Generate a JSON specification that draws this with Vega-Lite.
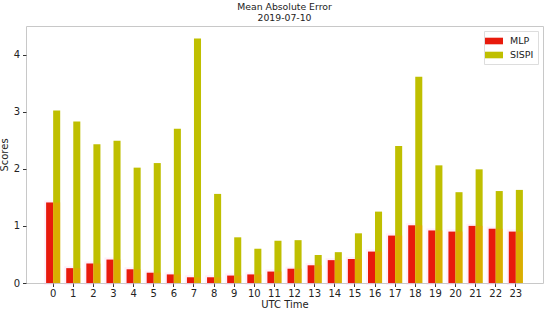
{
  "$schema": "https://vega.github.io/schema/vega-lite/v6.json",
  "width": 517,
  "height": 257,
  "autosize": {"type": "none"},
  "padding": {"left": 26, "top": 26, "right": 7, "bottom": 28},
  "background": "white",
  "config": {
    "font": "DejaVu Sans",
    "view": {"stroke": "#c8c8c8", "strokeWidth": 1},
    "axis": {"grid": false, "domain": false, "tickColor": "#333", "tickSize": 3.5, "labelFontSize": 10, "titleFontSize": 10, "titleFontWeight": "normal", "labelColor": "#222", "titleColor": "#222"}
  },
  "title": {"text": ["Mean Absolute Error", "2019-07-10"], "fontSize": 9.3, "fontWeight": "normal", "offset": 3, "lineHeight": 11, "color": "#222"},
  "data": {"values": [
    {"hour": "0", "MLP": 1.41, "SISPI": 3.02},
    {"hour": "1", "MLP": 0.26, "SISPI": 2.83},
    {"hour": "2", "MLP": 0.34, "SISPI": 2.43},
    {"hour": "3", "MLP": 0.41, "SISPI": 2.49},
    {"hour": "4", "MLP": 0.24, "SISPI": 2.02},
    {"hour": "5", "MLP": 0.18, "SISPI": 2.10},
    {"hour": "6", "MLP": 0.15, "SISPI": 2.70},
    {"hour": "7", "MLP": 0.10, "SISPI": 4.28},
    {"hour": "8", "MLP": 0.10, "SISPI": 1.56},
    {"hour": "9", "MLP": 0.13, "SISPI": 0.80},
    {"hour": "10", "MLP": 0.15, "SISPI": 0.60},
    {"hour": "11", "MLP": 0.20, "SISPI": 0.74},
    {"hour": "12", "MLP": 0.25, "SISPI": 0.75},
    {"hour": "13", "MLP": 0.31, "SISPI": 0.49},
    {"hour": "14", "MLP": 0.40, "SISPI": 0.54},
    {"hour": "15", "MLP": 0.42, "SISPI": 0.87},
    {"hour": "16", "MLP": 0.55, "SISPI": 1.25},
    {"hour": "17", "MLP": 0.83, "SISPI": 2.40},
    {"hour": "18", "MLP": 1.01, "SISPI": 3.61},
    {"hour": "19", "MLP": 0.92, "SISPI": 2.06},
    {"hour": "20", "MLP": 0.90, "SISPI": 1.59},
    {"hour": "21", "MLP": 1.00, "SISPI": 1.99},
    {"hour": "22", "MLP": 0.95, "SISPI": 1.61},
    {"hour": "23", "MLP": 0.90, "SISPI": 1.63}
  ]},
  "encoding": {
    "x": {"field": "hour", "type": "nominal", "sort": null,
      "scale": {"paddingInner": 0.3, "paddingOuter": 1.16},
      "axis": {"title": "UTC Time", "labelAngle": 0, "labelPadding": 2, "titlePadding": 1}}
  },
  "layer": [
    {
      "mark": {"type": "bar", "color": "#ffb3e6", "opacity": 0.45, "stroke": "#ffb3e6", "strokeWidth": 4, "strokeOpacity": 0.45},
      "encoding": {
        "xOffset": {"datum": "MLP", "scale": {"domain": ["MLP", "SISPI"], "paddingInner": 0}},
        "y": {"field": "MLP", "type": "quantitative"}
      }
    },
    {
      "transform": [{"fold": ["MLP", "SISPI"], "as": ["model", "value"]}],
      "mark": {"type": "bar"},
      "encoding": {
        "xOffset": {"field": "model", "type": "nominal", "scale": {"domain": ["MLP", "SISPI"], "paddingInner": 0}},
        "y": {"field": "value", "type": "quantitative",
          "scale": {"domain": [0, 4.5], "nice": false},
          "axis": {"title": "Scores", "values": [0, 1, 2, 3, 4], "format": "d", "labelPadding": 3, "titlePadding": 4}},
        "color": {"field": "model", "type": "nominal",
          "scale": {"domain": ["MLP", "SISPI"], "range": ["#e81a0c", "#bfbf00"]},
          "legend": {"title": null, "orient": "top-right", "offset": 5, "labelFontSize": 9.5, "labelColor": "#222",
            "symbolType": "M-1.5,-0.55H1.5V0.55H-1.5Z", "symbolSize": 144, "symbolStrokeWidth": 0,
            "strokeColor": "#dddddd", "fillColor": "white", "padding": 4, "rowPadding": 3, "labelOffset": 10}}
      }
    },
    {
      "mark": {"type": "bar", "color": "#f0a000", "opacity": 0.55},
      "encoding": {
        "xOffset": {"datum": "SISPI", "scale": {"domain": ["MLP", "SISPI"], "paddingInner": 0}},
        "y": {"field": "MLP", "type": "quantitative"}
      }
    }
  ]
}
